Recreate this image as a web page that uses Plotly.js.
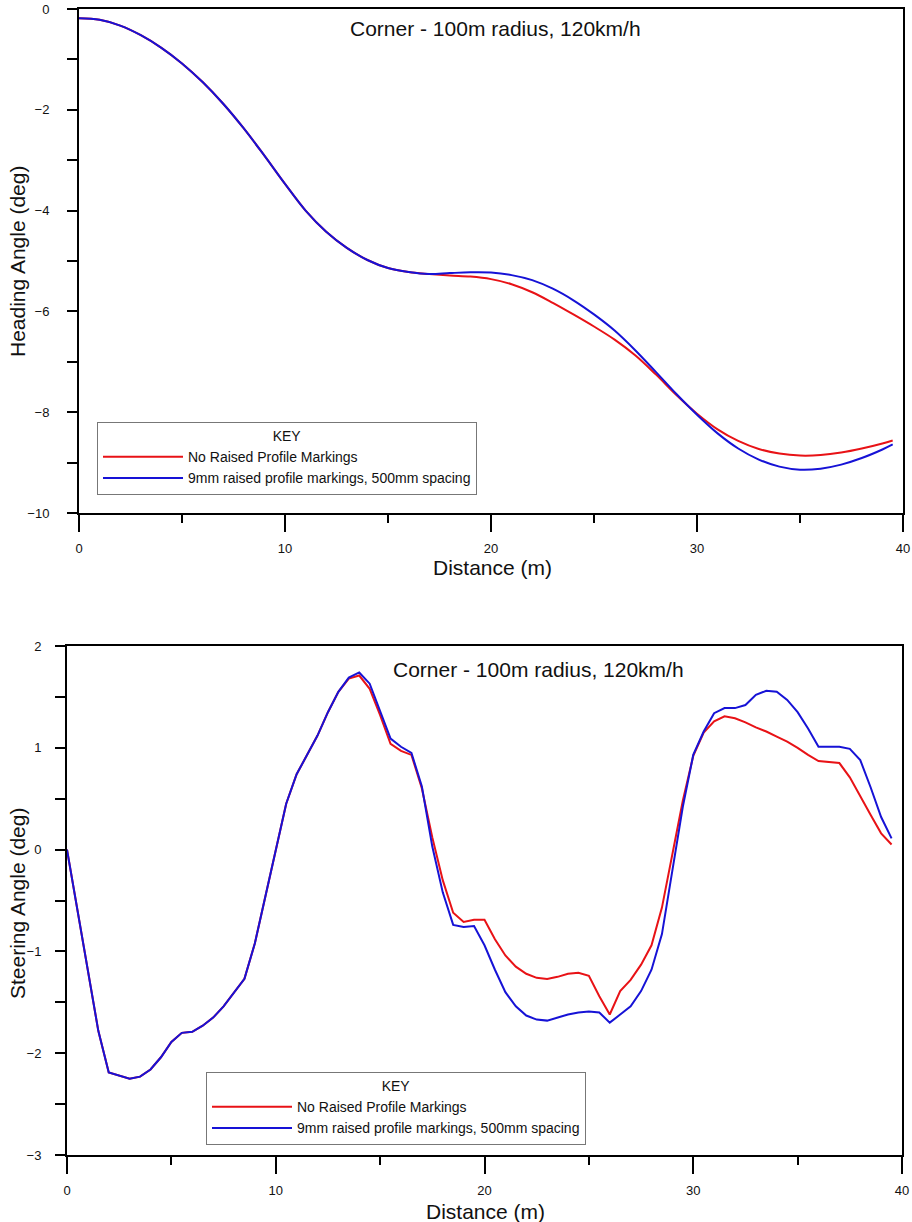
<!DOCTYPE html>
<html>
<head>
<meta charset="utf-8">
<script src="https://cdn.plot.ly/plotly-3.0.1.min.js"></script>
<style>html,body{margin:0;padding:0;background:#fff;}#chart{width:912px;height:1222px;}</style>
</head>
<body>
<div id="chart"></div>
<script>
// ---------- data ----------
const titleText = "Corner - 100m radius, 120km/h";
const seriesNames = ["No Raised Profile Markings", "9mm raised profile markings, 500mm spacing"];

// Heading angle (top chart)
const headingDist = [0,1,2,3,4,5,6,7,8,9,10,11,12,13,14,15,16,17,18,19,20,21,22,23,24,25,26,27,28,29,30,31,32,33,34,35,36,37,38,39,39.5];
const headingNone = [-0.185,-0.215,-0.33,-0.52,-0.77,-1.08,-1.45,-1.88,-2.37,-2.91,-3.47,-4.00,-4.42,-4.74,-4.98,-5.14,-5.22,-5.26,-5.29,-5.31,-5.36,-5.46,-5.62,-5.83,-6.06,-6.30,-6.56,-6.87,-7.25,-7.66,-8.03,-8.34,-8.57,-8.73,-8.82,-8.86,-8.85,-8.80,-8.72,-8.62,-8.56];
const headingRaised = [-0.185,-0.215,-0.33,-0.52,-0.77,-1.08,-1.45,-1.88,-2.37,-2.91,-3.47,-4.00,-4.42,-4.74,-4.98,-5.14,-5.22,-5.26,-5.24,-5.225,-5.23,-5.28,-5.38,-5.55,-5.78,-6.06,-6.38,-6.77,-7.20,-7.64,-8.05,-8.42,-8.72,-8.94,-9.08,-9.14,-9.12,-9.04,-8.91,-8.74,-8.64];

// Steering angle (bottom chart)
const steerDist = [0,0.5,1,1.5,2,2.5,3,3.5,4,4.5,5,5.5,6,6.5,7,7.5,8,8.5,9,9.5,10,10.5,11,11.5,12,12.5,13,13.5,14,14.5,15,15.5,16,16.5,17,17.5,18,18.5,19,19.5,20,20.5,21,21.5,22,22.5,23,23.5,24,24.5,25,25.5,26,26.5,27,27.5,28,28.5,29,29.5,30,30.5,31,31.5,32,32.5,33,33.5,34,34.5,35,35.5,36,36.5,37,37.5,38,38.5,39,39.5];
const steerNone = [0,-0.6,-1.2,-1.78,-2.19,-2.22,-2.25,-2.23,-2.16,-2.04,-1.89,-1.80,-1.79,-1.73,-1.65,-1.54,-1.41,-1.27,-0.92,-0.46,0.02,0.45,0.74,0.93,1.12,1.35,1.55,1.68,1.71,1.58,1.32,1.04,0.97,0.93,0.60,0.12,-0.30,-0.62,-0.71,-0.69,-0.69,-0.88,-1.04,-1.15,-1.22,-1.26,-1.27,-1.25,-1.22,-1.21,-1.24,-1.44,-1.62,-1.39,-1.28,-1.13,-0.94,-0.57,-0.05,0.48,0.92,1.15,1.26,1.31,1.29,1.25,1.20,1.16,1.11,1.06,1.00,0.93,0.87,0.86,0.85,0.71,0.52,0.34,0.16,0.05];
const steerRaised = [0,-0.6,-1.2,-1.78,-2.19,-2.22,-2.25,-2.23,-2.16,-2.04,-1.89,-1.80,-1.79,-1.73,-1.65,-1.54,-1.41,-1.27,-0.92,-0.46,0.02,0.45,0.74,0.93,1.12,1.35,1.55,1.69,1.74,1.63,1.36,1.09,1.01,0.95,0.62,0.03,-0.42,-0.74,-0.76,-0.75,-0.94,-1.18,-1.40,-1.54,-1.63,-1.67,-1.68,-1.65,-1.62,-1.60,-1.59,-1.60,-1.70,-1.62,-1.54,-1.39,-1.18,-0.83,-0.22,0.42,0.93,1.16,1.34,1.39,1.39,1.42,1.52,1.56,1.55,1.47,1.35,1.19,1.01,1.01,1.01,0.99,0.88,0.61,0.32,0.11];

const xTickVals = [0,10,20,30,40];
const headingTickVals = [0,-2,-4,-6,-8,-10];
const steerTickVals = [2,1,0,-1,-2,-3];

// ---------- styling ----------
const W = 912, H = 1222;
const RED = "rgb(232,18,22)", BLUE = "rgb(22,18,214)";
const FONT = "Liberation Sans, Arial, sans-serif";

const traces = [
  {x: headingDist, y: headingNone, name: seriesNames[0], type: "scatter", mode: "lines",
   line: {color: RED, width: 2, shape: "spline", smoothing: 1}, xaxis: "x", yaxis: "y", legend: "legend"},
  {x: headingDist, y: headingRaised, name: seriesNames[1], type: "scatter", mode: "lines",
   line: {color: BLUE, width: 2, shape: "spline", smoothing: 1}, xaxis: "x", yaxis: "y", legend: "legend"},
  {x: steerDist, y: steerNone, name: seriesNames[0], type: "scatter", mode: "lines",
   line: {color: RED, width: 2}, xaxis: "x2", yaxis: "y2", legend: "legend2"},
  {x: steerDist, y: steerRaised, name: seriesNames[1], type: "scatter", mode: "lines",
   line: {color: BLUE, width: 2}, xaxis: "x2", yaxis: "y2", legend: "legend2"}
];

function xAxis(domain, anchor) {
  return {domain: domain, anchor: anchor, range: [0, 40], tickvals: xTickVals,
    ticks: "outside", ticklen: 17, tickwidth: 2, tickcolor: "#000",
    minor: {dtick: 5, tick0: 0, ticks: "outside", ticklen: 8, tickwidth: 2, tickcolor: "#000"},
    showline: true, linecolor: "#000", linewidth: 2, mirror: true, showgrid: false, zeroline: false,
    tickfont: {family: FONT, size: 13, color: "#111"}, ticklabelstandoff: 5, automargin: false};
}
function yAxis(domain, anchor, range, tickvals, minorDtick, standoff) {
  return {domain: domain, anchor: anchor, range: range, tickvals: tickvals,
    ticks: "outside", ticklen: 10, tickwidth: 2, tickcolor: "#000",
    minor: {dtick: minorDtick, tick0: 0, ticks: "outside", ticklen: 10, tickwidth: 2, tickcolor: "#000"},
    showline: true, linecolor: "#000", linewidth: 2, mirror: true, showgrid: false, zeroline: false,
    tickfont: {family: FONT, size: 13, color: "#111"}, ticklabelstandoff: standoff, automargin: false};
}

const topX = [79/W, 903/W], topY = [1 - 513/H, 1 - 9/H];
const botX = [67/W, 902/W], botY = [1 - 1155/H, 1 - 646/H];

const legendCommon = {
  bgcolor: "#fff", bordercolor: "#777", borderwidth: 1,
  font: {family: FONT, size: 14, color: "#111"},
  title: {text: "KEY", side: "top center", font: {family: FONT, size: 14, color: "#111"}},
  xanchor: "left", yanchor: "top", tracegroupgap: 0, itemwidth: 80
};

const layout = {
  width: W, height: H,
  margin: {l: 0, r: 0, t: 0, b: 0},
  paper_bgcolor: "#fff", plot_bgcolor: "#fff",
  showlegend: true,
  xaxis: xAxis(topX, "y"),
  yaxis: yAxis(topY, "x", [-10, 0], headingTickVals, 1, 15),
  xaxis2: xAxis(botX, "y2"),
  yaxis2: yAxis(botY, "x2", [-3, 2], steerTickVals, 0.5, 11),
  legend: Object.assign({}, legendCommon, {x: 97/W, y: 1 - 422/H}),
  legend2: Object.assign({}, legendCommon, {x: 206/W, y: 1 - 1072/H}),
  annotations: [
    {text: titleText, xref: "paper", yref: "paper", x: 495/W, y: 1 - 28/H, showarrow: false,
     xanchor: "center", yanchor: "middle", font: {family: FONT, size: 21, color: "#111"}},
    {text: titleText, xref: "paper", yref: "paper", x: 538/W, y: 1 - 669/H, showarrow: false,
     xanchor: "center", yanchor: "middle", font: {family: FONT, size: 21, color: "#111"}},
    {text: "Distance (m)", xref: "paper", yref: "paper", x: 492/W, y: 1 - 567/H, showarrow: false,
     xanchor: "center", yanchor: "middle", font: {family: FONT, size: 21, color: "#111"}},
    {text: "Distance (m)", xref: "paper", yref: "paper", x: 485/W, y: 1 - 1211/H, showarrow: false,
     xanchor: "center", yanchor: "middle", font: {family: FONT, size: 21, color: "#111"}},
    {text: "Heading Angle (deg)", xref: "paper", yref: "paper", x: 18/W, y: 1 - 262/H, showarrow: false,
     textangle: -90, xanchor: "center", yanchor: "middle", font: {family: FONT, size: 21, color: "#111"}},
    {text: "Steering Angle (deg)", xref: "paper", yref: "paper", x: 18/W, y: 1 - 904/H, showarrow: false,
     textangle: -90, xanchor: "center", yanchor: "middle", font: {family: FONT, size: 21, color: "#111"}}
  ]
};

Plotly.newPlot("chart", traces, layout, {staticPlot: true, displayModeBar: false});
</script>
</body>
</html>
